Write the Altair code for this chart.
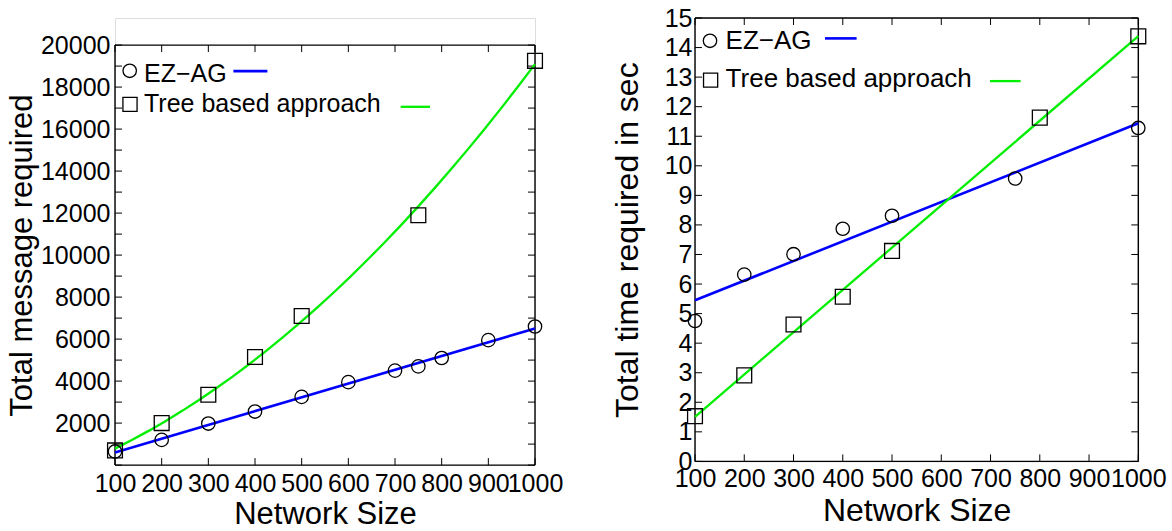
import altair as alt
import pandas as pd

# ---------------- data ----------------
series_names = ["EZ\u2212AG", "Tree based approach"]

# left panel: Total message required
msg_ez_x = [100, 200, 300, 400, 500, 600, 700, 750, 800, 900, 1000]
msg_ez_y = [650, 1200, 1980, 2550, 3250, 3950, 4500, 4700, 5100, 5950, 6600]
msg_tree_x = [100, 200, 300, 400, 500, 750, 1000]
msg_tree_y = [700, 2000, 3350, 5150, 7100, 11900, 19250]

# right panel: Total time required in sec
time_ez_x = [100, 200, 300, 400, 500, 750, 1000]
time_ez_y = [4.75, 6.32, 7.01, 7.87, 8.31, 9.57, 11.28]
time_tree_x = [100, 200, 300, 400, 500, 800, 1000]
time_tree_y = [1.53, 2.91, 4.63, 5.57, 7.12, 11.63, 14.38]

# axes
x_tick_values = [100, 200, 300, 400, 500, 600, 700, 800, 900, 1000]
msg_label_values = [2000, 4000, 6000, 8000, 10000, 12000, 14000, 16000, 18000, 20000]
msg_tick_values = [0, 1000, 2000, 3000, 4000, 5000, 6000, 7000, 8000, 9000, 10000,
                   11000, 12000, 13000, 14000, 15000, 16000, 17000, 18000, 19000, 20000]
time_label_values = [0, 1, 2, 3, 4, 5, 6, 7, 8, 9, 10, 11, 12, 13, 14, 15]

FONT = "Liberation Sans"
BLUE = "#0000ff"
GREEN = "#00ee00"
LABEL_SIZE = 25


def panel(ez_x, ez_y, tree_x, tree_y, y_domain, y_top, y_labels, y_ticks,
          y_title, width, height, title_size, legend, tree_method, y_axis_extra,
          x_label_pad, x_title_pad):
    xs = alt.Scale(domain=[100, 1000], nice=False, zero=False)
    ys = alt.Scale(domain=y_domain, nice=False, zero=False)
    xaxis = alt.Axis(title="Network Size", values=x_tick_values, format="d", ticks=False,
                     tickSize=0, domain=False, grid=False, labelOverlap=False,
                     labelFlush=False, labelFontSize=LABEL_SIZE, titleFontSize=title_size,
                     labelFont=FONT, titleFont=FONT, labelColor="black", titleColor="black",
                     titleFontWeight="normal", labelPadding=x_label_pad,
                     titlePadding=x_title_pad)
    yaxis = alt.Axis(title=y_title, values=y_labels, format="d", ticks=False, tickSize=0,
                     domain=False, grid=False, labelOverlap=False, labelFlush=False,
                     labelFontSize=LABEL_SIZE, titleFontSize=title_size, labelFont=FONT,
                     titleFont=FONT, labelColor="black", titleColor="black",
                     titleFontWeight="normal", **y_axis_extra)

    def X(f):
        return alt.X(f, scale=xs, axis=xaxis)

    def Y(f):
        return alt.Y(f, scale=ys, axis=yaxis)

    df_ez = pd.DataFrame({"x": ez_x, "y": ez_y})
    df_tree = pd.DataFrame({"x": tree_x, "y": tree_y})

    ez_pts = alt.Chart(df_ez).mark_point(shape="circle", size=180, filled=False,
                                         color="black", strokeWidth=1.3, opacity=1).encode(
        x=X("x:Q"), y=Y("y:Q"))
    tree_pts = alt.Chart(df_tree).mark_point(shape="square", size=220, filled=False,
                                             color="black", strokeWidth=1.3, opacity=1).encode(
        x=X("x:Q"), y=Y("y:Q"))
    ez_line = alt.Chart(df_ez).transform_regression("x", "y", method="linear").mark_line(
        color=BLUE, strokeWidth=2.6).encode(x=X("x:Q"), y=Y("y:Q"))
    if tree_method == "poly":
        tree_reg = alt.Chart(df_tree).transform_regression("x", "y", method="poly", order=2)
    else:
        tree_reg = alt.Chart(df_tree).transform_regression("x", "y", method="linear")
    tree_line = tree_reg.mark_line(color=GREEN, strokeWidth=2.3).encode(x=X("x:Q"), y=Y("y:Q"))

    # frame and inward ticks
    yt = pd.DataFrame({"v": y_ticks})
    xt = pd.DataFrame({"v": x_tick_values, "top": [y_top] * len(x_tick_values)})
    fr = pd.DataFrame({"top": [y_top], "bottom": [y_domain[0]]})
    tick_len = 7
    left_ticks = alt.Chart(yt).mark_rule(color="black", strokeWidth=1).encode(
        y=Y("v:Q"), x=alt.value(0), x2=alt.value(tick_len))
    right_ticks = alt.Chart(yt).mark_rule(color="black", strokeWidth=1).encode(
        y=Y("v:Q"), x=alt.value(width - tick_len), x2=alt.value(width))
    bottom_ticks = alt.Chart(xt).mark_rule(color="black", strokeWidth=1).encode(
        x=X("v:Q"), y=alt.value(height), y2=alt.value(height - tick_len))
    top_ticks = alt.Chart(xt).mark_rule(color="black", strokeWidth=1, y2Offset=tick_len).encode(
        x=X("v:Q"), y=Y("top:Q"), y2="top:Q")
    frame_l = alt.Chart(fr).mark_rule(color="black", strokeWidth=1.4).encode(
        y=Y("top:Q"), y2="bottom:Q", x=alt.value(0))
    frame_r = alt.Chart(fr).mark_rule(color="black", strokeWidth=1.4).encode(
        y=Y("top:Q"), y2="bottom:Q", x=alt.value(width))
    frame_t = alt.Chart(fr).mark_rule(color="black", strokeWidth=1.4).encode(
        y=Y("top:Q"), x=alt.value(0), x2=alt.value(width))
    frame_b = alt.Chart(fr).mark_rule(color="black", strokeWidth=1.4).encode(
        y=Y("bottom:Q"), x=alt.value(0), x2=alt.value(width))

    # legend (gnuplot style: symbol, label, line sample)
    leg_layers = []
    shapes = ["circle", "square"]
    sizes = [180, 200]
    colors = [BLUE, GREEN]
    widths = [2.6, 2.3]
    for i, name in enumerate(series_names):
        p = legend[i]
        d = pd.DataFrame({"label": [name]})
        leg_layers.append(alt.Chart(d).mark_point(shape=shapes[i], size=sizes[i], filled=False,
                                                  color="black", strokeWidth=1.3, opacity=1).encode(
            x=alt.value(p["sx"]), y=alt.value(p["sy"])))
        leg_layers.append(alt.Chart(d).mark_text(align="left", baseline="alphabetic",
                                                 fontSize=p["fs"], font=FONT, color="black").encode(
            text="label:N", x=alt.value(p["tx"]), y=alt.value(p["ty"])))
        leg_layers.append(alt.Chart(d).mark_rule(color=colors[i], strokeWidth=widths[i]).encode(
            x=alt.value(p["lx1"]), x2=alt.value(p["lx2"]), y=alt.value(p["ly"])))

    return alt.layer(left_ticks, right_ticks, bottom_ticks, top_ticks,
                     frame_l, frame_r, frame_t, frame_b,
                     ez_line, tree_line, ez_pts, tree_pts, *leg_layers).properties(
        width=width, height=height)


LW, LH = 420, 447.1
RW, RH = 443.3, 443.4

left_legend = [
    dict(sx=14.7, sy=52.8, tx=29, ty=63.8, fs=25, lx1=118.4, lx2=152.4, ly=53.1),
    dict(sx=15.0, sy=86.4, tx=29, ty=94.4, fs=25, lx1=285.7, lx2=315.0, ly=88.8),
]
right_legend = [
    dict(sx=15.0, sy=22.8, tx=30.6, ty=31.4, fs=26, lx1=130.0, lx2=161.6, ly=20.4),
    dict(sx=15.6, sy=62.1, tx=30.6, ty=68.8, fs=26, lx1=295.0, lx2=325.6, ly=63.1),
]

left = panel(msg_ez_x, msg_ez_y, msg_tree_x, msg_tree_y, [0, 21290], 20000,
             msg_label_values, msg_tick_values, "Total message required", LW, LH, 31,
             left_legend, "poly", dict(labelPadding=5, titlePadding=2, titleY=237.1),
             6, 3)
right = panel(time_ez_x, time_ez_y, time_tree_x, time_tree_y, [0, 15], 15,
              time_label_values, time_label_values, "Total time required in sec", RW, RH, 32,
              right_legend, "linear", dict(labelPadding=3, titlePadding=20),
              5, 4)

chart = alt.hconcat(left, right, spacing=46).properties(
    padding={"left": 5, "top": 5, "right": 0, "bottom": 0},
    background="white",
).configure_view(stroke=None).configure(font=FONT)

chart.save("out.html", embed_options={"renderer": "svg", "actions": False})
